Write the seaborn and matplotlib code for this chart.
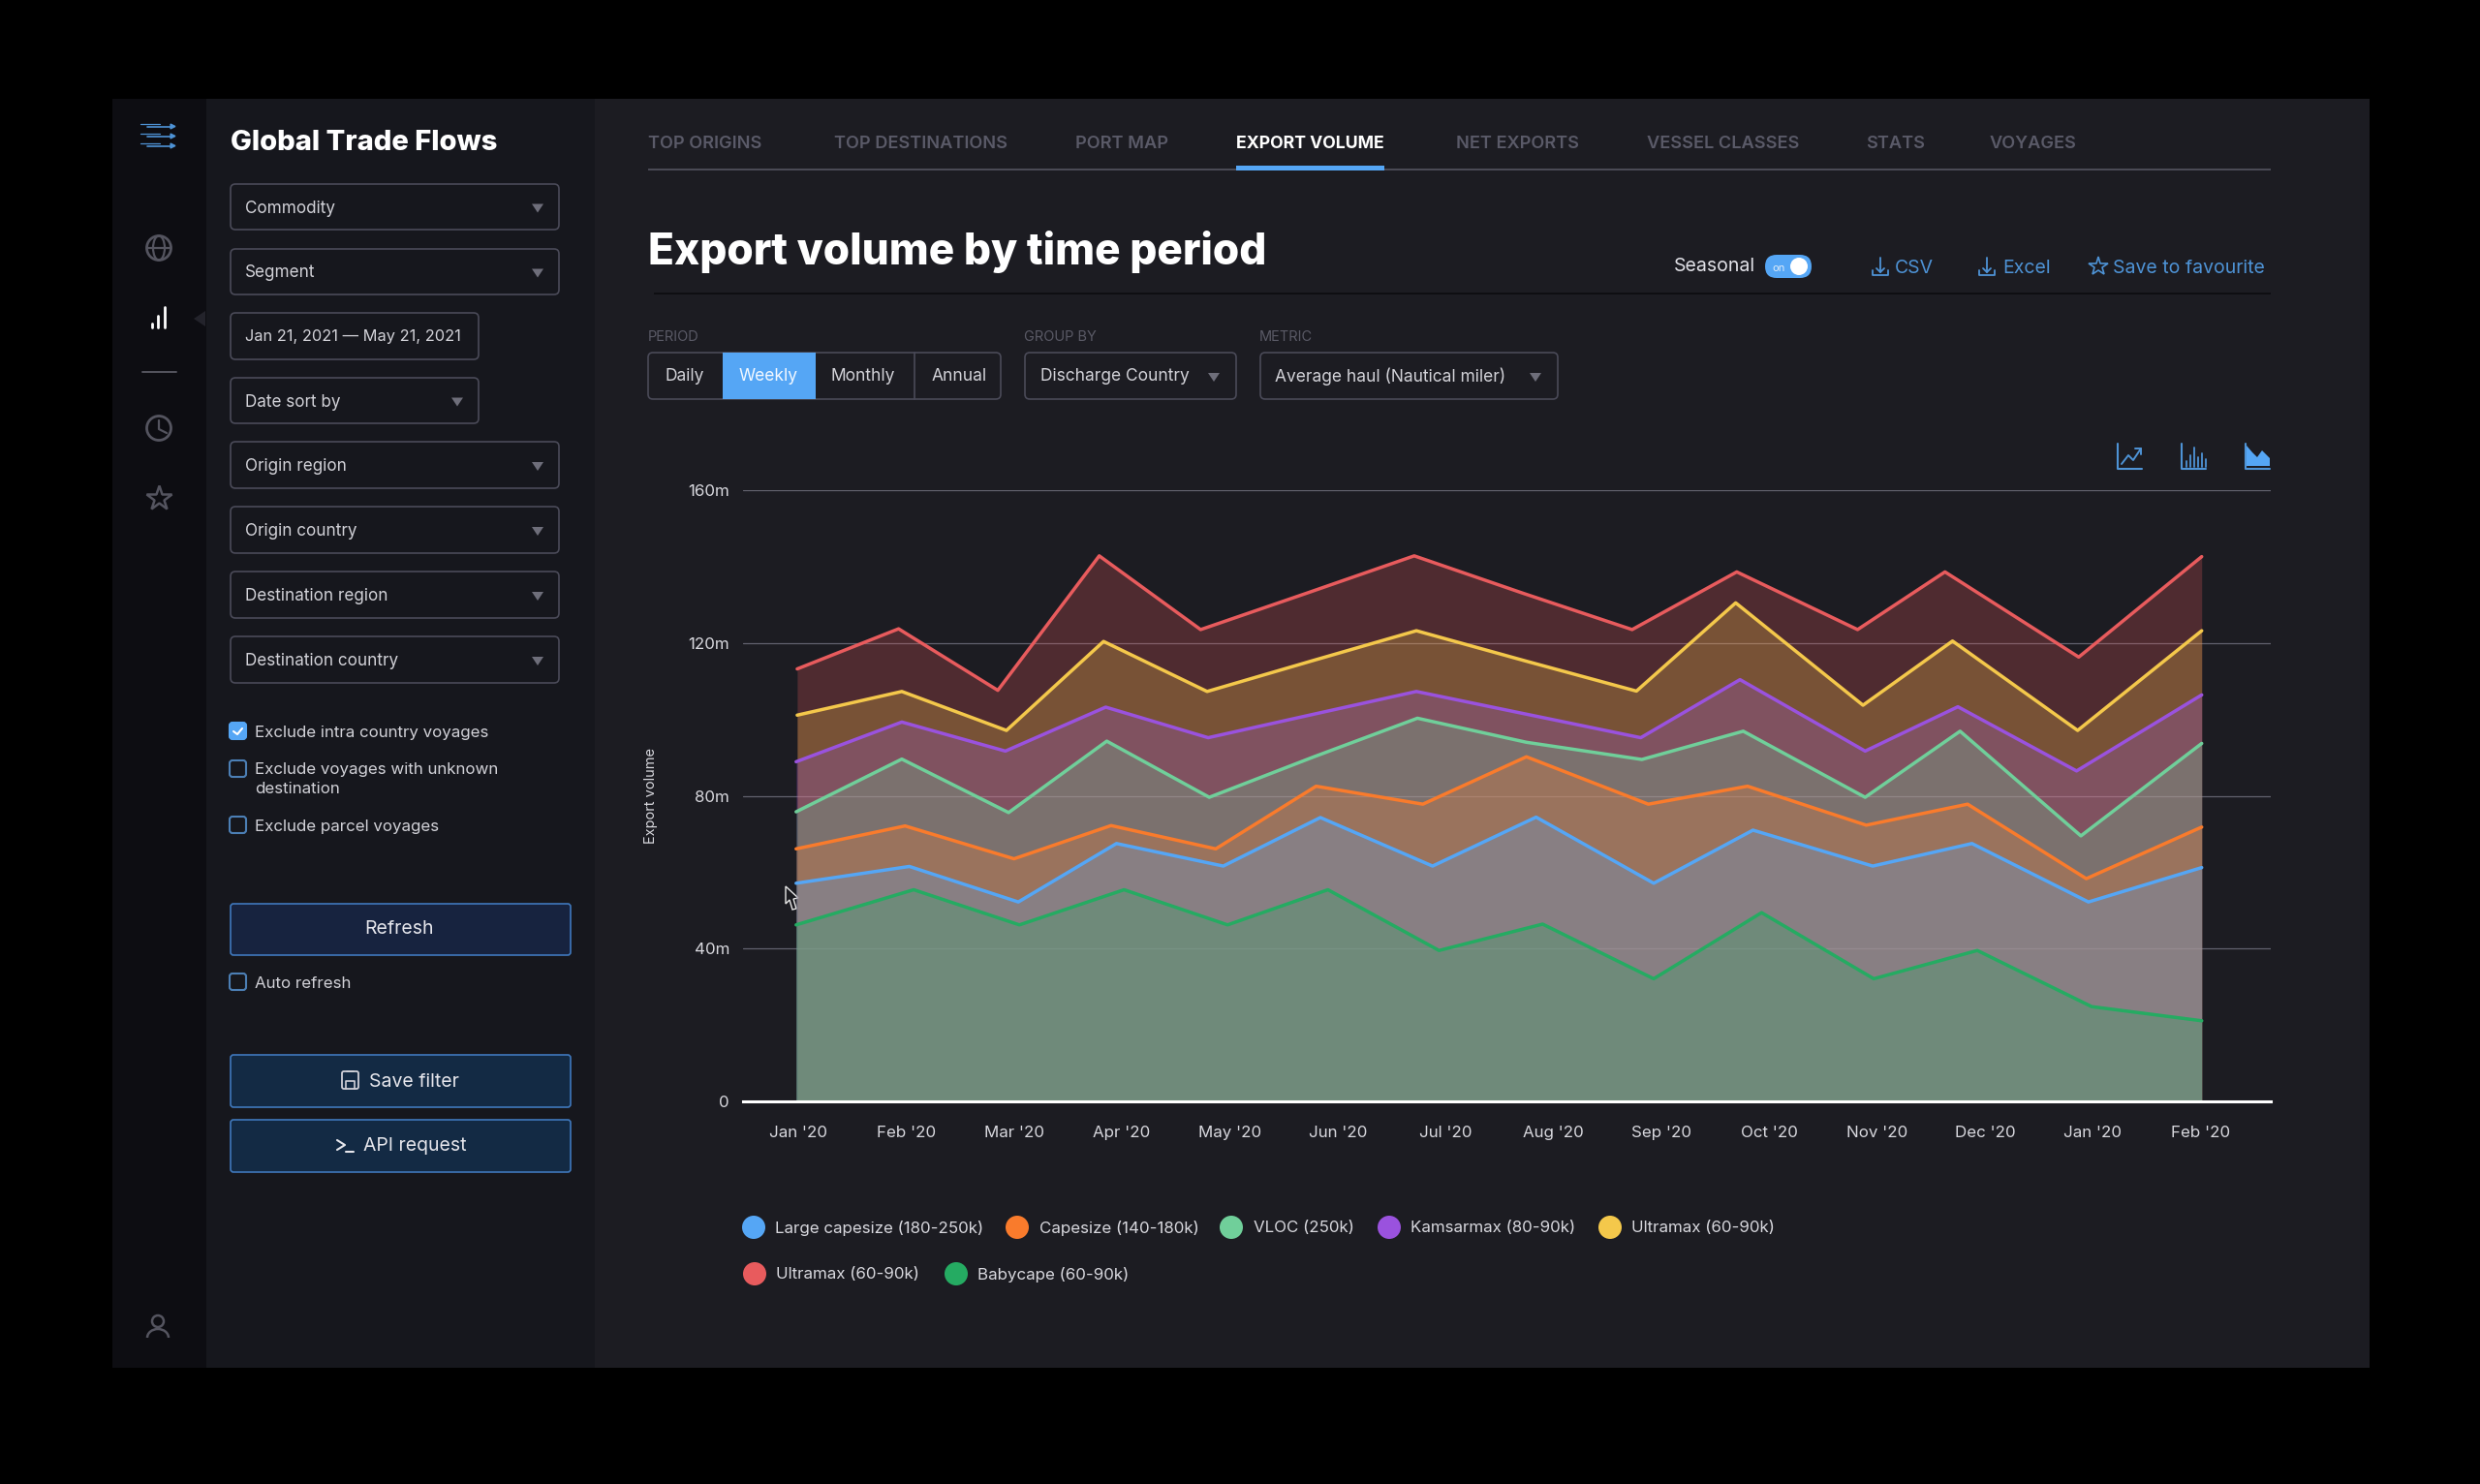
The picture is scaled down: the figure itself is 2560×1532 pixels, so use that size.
import numpy as np
import pandas as pd
import seaborn as sns
import matplotlib.pyplot as plt
from matplotlib.patches import Circle, Ellipse, FancyBboxPatch, Polygon, Rectangle, Arc

months = ["Jan '20", "Feb '20", "Mar '20", "Apr '20", "May '20", "Jun '20", "Jul '20",
          "Aug '20", "Sep '20", "Oct '20", "Nov '20", "Dec '20", "Jan '20", "Feb '20"]
y_ticks = [0, 40, 80, 120, 160]
y_tick_labels = ["0", "40m", "80m", "120m", "160m"]

# the series do not share their vertices in the picture, so each keeps its own month positions
red_x = [-0.01, 0.93, 1.85, 2.79, 3.73, 4.72, 5.71, 6.72, 7.73, 8.70, 9.82, 10.63, 11.87, 13.01]
red_y = [113.2, 123.7, 107.6, 142.8, 123.5, 133.1, 142.8, 133.0, 123.5, 138.6, 123.5, 138.6, 116.3, 142.6]
yellow_x = [-0.01, 0.96, 1.93, 2.83, 3.79, 4.76, 5.73, 6.74, 7.77, 8.69, 9.87, 10.70, 11.86, 13.01]
yellow_y = [101.1, 107.3, 97.1, 120.4, 107.3, 115.3, 123.2, 115.3, 107.4, 130.5, 103.7, 120.5, 97.1, 123.2]
purple_x = [-0.02, 0.96, 1.92, 2.85, 3.80, 4.77, 5.73, 6.76, 7.81, 8.73, 9.89, 10.75, 11.85, 13.01]
purple_y = [88.9, 99.3, 91.7, 103.2, 95.2, 101.3, 107.3, 101.3, 95.2, 110.4, 91.7, 103.3, 86.5, 106.4]
vloc_x = [-0.02, 0.96, 1.95, 2.86, 3.81, 4.78, 5.74, 6.75, 7.82, 8.76, 9.89, 10.77, 11.89, 13.01]
vloc_y = [75.8, 89.6, 75.6, 94.3, 79.6, 90.2, 100.3, 94.0, 89.5, 96.9, 79.6, 96.9, 69.5, 93.7]
orange_x = [-0.02, 0.99, 2.00, 2.90, 3.87, 4.80, 5.79, 6.75, 7.88, 8.80, 9.90, 10.84, 11.94, 13.01]
orange_y = [66.1, 72.1, 63.5, 72.2, 66.1, 82.5, 77.8, 90.2, 77.8, 82.5, 72.3, 77.8, 58.3, 71.8]
blue_x = [-0.02, 1.03, 2.04, 2.95, 3.94, 4.84, 5.88, 6.84, 7.93, 8.85, 9.96, 10.88, 11.96, 13.01]
blue_y = [57.1, 61.5, 52.2, 67.5, 61.6, 74.3, 61.6, 74.4, 57.1, 71.0, 61.6, 67.5, 52.2, 61.2]
green_x = [-0.02, 1.07, 2.05, 3.02, 3.98, 4.91, 5.94, 6.90, 7.93, 8.93, 9.97, 10.93, 11.99, 13.01]
green_y = [46.2, 55.4, 46.2, 55.4, 46.2, 55.4, 39.5, 46.4, 32.1, 49.4, 32.1, 39.5, 24.8, 21.1]

series_names = ["Large capesize (180-250k)", "Capesize (140-180k)", "VLOC (250k)", "Kamsarmax (80-90k)",
                "Ultramax (60-90k)", "Ultramax (60-90k) ", "Babycape (60-90k)"]
series_x = [blue_x, orange_x, vloc_x, purple_x, yellow_x, red_x, green_x]
series_y = [blue_y, orange_y, vloc_y, purple_y, yellow_y, red_y, green_y]
colors = ["#55A6F5", "#F97B2C", "#70CF9A", "#9A52DE", "#F4C84B", "#E85B5D", "#25AB62"]
paint_order = [5, 4, 3, 2, 1, 0, 6]

filters = [("Commodity", 190, 237, 577), ("Segment", 257, 304, 577), ("Date sort by", 390, 437, 494),
           ("Origin region", 456, 504, 577), ("Origin country", 523, 571, 577),
           ("Destination region", 590, 638, 577), ("Destination country", 657, 705, 577)]
tabs = [("TOP ORIGINS", 669), ("TOP DESTINATIONS", 861), ("PORT MAP", 1110), ("EXPORT VOLUME", 1276),
        ("NET EXPORTS", 1503), ("VESSEL CLASSES", 1700), ("STATS", 1926), ("VOYAGES", 2054)]

BG = "#1C1C22"
PANEL = "#16171D"
RAIL = "#0D0D12"
EDGE = "#4A4A58"
MUTED = "#54545F"
TEXT = "#D2D2D8"
LINK = "#4E93D6"

sns.set_theme(style="dark", rc={"axes.facecolor": "none", "figure.facecolor": "black"})
plt.rcParams["font.family"] = ["Inter", "DejaVu Sans"]

fig = plt.figure(figsize=(25.6, 15.32), dpi=100)

# whole figure in pixel units for the app chrome around the chart
ui = fig.add_axes([0, 0, 1, 1], zorder=0)
ui.set_xlim(0, 2560)
ui.set_ylim(1532, 0)
ui.axis("off")


def rect(x0, y0, x1, y1, fc, ec="none", lw=1.2, r=0, z=1):
    if r:
        p = FancyBboxPatch((x0 + r, y0 + r), x1 - x0 - 2 * r, y1 - y0 - 2 * r,
                           boxstyle=f"round,pad={r},rounding_size={r}", fc=fc, ec=ec, lw=lw, zorder=z)
    else:
        p = Rectangle((x0, y0), x1 - x0, y1 - y0, fc=fc, ec=ec, lw=lw, zorder=z)
    ui.add_patch(p)


def label(x, y, s, size=12, color=TEXT, ha="left", weight="normal", **kw):
    # the va=center box sits a little high against the reference text
    ui.text(x, y + 1.5, s, fontsize=size, color=color, ha=ha, va="center", weight=weight, zorder=5, **kw)


def seg(xs, ys, color=LINK, lw=1.4):
    ui.plot(xs, ys, color=color, lw=lw, solid_capstyle="round", zorder=5)


def arrow(x, y, color="#6E6E7A"):
    ui.add_patch(Polygon([(x - 6, y - 4), (x + 6, y - 4), (x, y + 5)], fc=color, ec="none", zorder=5))


# app panels
rect(116, 102, 2446, 1412, BG)
rect(116, 102, 213, 1412, RAIL)
rect(213, 102, 614, 1412, PANEL)

# left rail icons
for dy in (-10, 0, 10):
    seg([145, 165], [140 + dy - 2, 140 + dy - 2], LINK, 0.9)
    seg([152, 177], [140 + dy + 1, 140 + dy + 1], LINK, 1.2)
    ui.plot([178], [140 + dy], marker=">", ms=3.5, color=LINK, zorder=5)
ui.add_patch(Circle((164, 256), 12.5, fc="none", ec=MUTED, lw=2, zorder=5))
ui.add_patch(Ellipse((164, 256), 12, 25, fc="none", ec=MUTED, lw=1.6, zorder=5))
seg([152, 176], [256, 256], MUTED, 1.6)
for bx, top in zip((157, 163, 170), (334, 326, 317)):
    seg([bx, bx], [top, 338], "#FFFFFF", 2)
ui.add_patch(Polygon([(200, 329), (212, 321), (212, 337)], fc="#23232B", ec="none", zorder=5))
seg([147, 182], [384, 384], MUTED, 1.4)
ui.add_patch(Circle((164, 442), 12.5, fc="none", ec=MUTED, lw=2, zorder=5))
seg([164, 164, 172], [434, 443, 447], MUTED, 1.6)
ui.plot([164], [514], marker="*", ms=19, mfc="none", mec=MUTED, mew=1.8, zorder=5)
ui.add_patch(Circle((163, 1364), 6, fc="none", ec=MUTED, lw=1.8, zorder=5))
ui.add_patch(Arc((163, 1381), 22, 18, theta1=180, theta2=360, ec=MUTED, lw=1.8, zorder=5))

# filter column
label(238, 146, "Global Trade Flows", size=21, color="white", weight="heavy")
for name, y0, y1, x1 in filters:
    rect(238, y0, x1, y1, "none", EDGE, r=5)
    label(253, (y0 + y1) / 2, name, size=12.3)
    arrow(x1 - 22, (y0 + y1) / 2 + 1)
rect(238, 323, 494, 371, "none", EDGE, r=5)
label(253, 346, "Jan 21, 2021 \u2014 May 21, 2021", size=11.8)

for y0, txt, ty in [(746, "Exclude intra country voyages", 755),
                    (785, "Exclude voyages with unknown", 793),
                    (843, "Exclude parcel voyages", 852),
                    (1005, "Auto refresh", 1014)]:
    rect(237, y0, 254, y0 + 17, "#55A6F5" if y0 == 746 else "none", "#55A6F5" if y0 == 746 else "#4C7FB5", r=3, lw=1.5)
    label(263, ty, txt, size=12.2)
label(263, 813, "destination", size=12.2)
seg([241, 245, 250], [755, 758, 752], "white", 1.5)

rect(238, 933, 589, 986, "#17233F", "#3F78BC", r=3, lw=1.2)
label(412, 958, "Refresh", size=14, color="#E6E6EC", ha="center")
rect(238, 1089, 589, 1143, "#132A44", "#3F78BC", r=3, lw=1.2)
label(381, 1115, "Save filter", size=14, color="#E6E6EC")
rect(353, 1106, 370, 1124, "none", "#D0D0D8", r=2, lw=1.3)
seg([357, 357, 366, 366], [1124, 1116, 1116, 1124], "#D0D0D8", 1.2)
seg([358, 365], [1106, 1106], "#D0D0D8", 1.2)
rect(238, 1156, 589, 1210, "#132A44", "#3F78BC", r=3, lw=1.2)
seg([348, 356, 348], [1177, 1182, 1187], "#E6E6EC", 1.5)
seg([357, 365], [1189, 1189], "#E6E6EC", 1.5)
label(375, 1182, "API request", size=14, color="#E6E6EC")

# tabs and header
for name, x in tabs:
    active = name == "EXPORT VOLUME"
    label(x, 147, name, size=12.7 if active else 13.1, color="white" if active else "#5A5A68",
          weight="bold" if active else "semibold")
rect(669, 174, 2344, 176, "#4A4A55")
rect(1276, 171, 1429, 176, "#55A6F5", z=2)
label(669, 258.5, "Export volume by time period", size=31.8, color="white", weight="heavy")
rect(675, 302, 2344, 304, "#0E0E12")

label(1728, 274, "Seasonal", size=14, color="#E2E2E8")
rect(1822, 263, 1870, 287, "#55A6F5", r=12)
ui.add_patch(Circle((1857, 275), 9, fc="white", ec="none", zorder=5))
label(1836, 275, "on", size=8, color="#DCEBFA", ha="center")
for ix, tx, txt in [(1941, 1956, "CSV"), (2051, 2067, "Excel")]:
    seg([ix, ix], [266, 281], LINK, 1.3)
    seg([ix - 4, ix, ix + 4], [277, 281, 277], LINK, 1.3)
    seg([ix - 8, ix - 8, ix + 8, ix + 8], [279, 284, 284, 279], LINK, 1.3)
    label(tx, 275, txt, size=14, color=LINK)
ui.plot([2166], [275], marker="*", ms=15, mfc="none", mec=LINK, mew=1.2, zorder=5)
label(2181, 275, "Save to favourite", size=14, color=LINK)

# period, group by, metric controls
label(669, 346, "PERIOD", size=10.5, color="#5A5A66")
label(1057, 346, "GROUP BY", size=10.5, color="#5A5A66")
label(1300, 346, "METRIC", size=10.5, color="#5A5A66")
rect(669, 364, 1033, 412, "none", EDGE, r=5)
rect(746, 364, 842, 412, "#55A6F5", z=2)
seg([944, 944], [364, 412], EDGE, 1.2)
for cx, txt in [(707, "Daily"), (793, "Weekly"), (891, "Monthly"), (990, "Annual")]:
    label(cx, 387, txt, size=12.5, color="#F2F8FF" if txt == "Weekly" else TEXT, ha="center")
rect(1058, 364, 1276, 412, "none", EDGE, r=5)
label(1074, 387, "Discharge Country", size=12.5)
arrow(1253, 389)
rect(1301, 364, 1608, 412, "none", EDGE, r=5)
label(1316, 387, "Average haul (Nautical miler)", size=12.5)
arrow(1585, 389)

# chart type icons
for x0 in (2186, 2252, 2318):
    seg([x0, x0, x0 + 25], [458, 484, 484], LINK, 1.5)
seg([2190, 2197, 2202, 2210], [479, 470, 475, 463], LINK, 1.4)
seg([2204, 2210, 2210], [463, 463, 469], LINK, 1.4)
for bx, top in zip(range(2257, 2278, 4), (476, 470, 462, 472, 468, 474)):
    seg([bx, bx], [top, 482], LINK, 1.3)
ui.add_patch(Polygon([(2319, 481), (2319, 460), (2325, 467), (2330, 472), (2335, 465), (2343, 473), (2343, 481)],
                     fc="#55A6F5", ec="none", zorder=5))

# mouse pointer
ui.add_patch(Polygon([(811, 915), (811, 933), (815, 929), (818, 939), (822, 938), (819, 928), (824, 927)],
                     fc="#1B1B20", ec="#E8E8E8", lw=1, zorder=8))

# legend, placed as in the picture
for (cx, tx, cy), name, col in zip([(778, 800, 1267), (1050, 1073, 1267), (1271, 1294, 1267), (1434, 1456, 1267),
                                    (1662, 1684, 1267), (779, 801, 1315), (987, 1009, 1315)],
                                   series_names, colors):
    ui.add_patch(Circle((cx, cy), 12, fc=col, ec="none", zorder=5))
    label(tx, cy - 1, name.strip(), size=12.2, color="#D8D8DE")

# chart
df = pd.concat([pd.DataFrame({"month": x, "volume": y, "vessel": n})
                for x, y, n in zip(series_x, series_y, series_names)])
ax = fig.add_axes([767 / 2560, 1 - 1137 / 1532, (2344 - 767) / 2560, (1137 - 506) / 1532], zorder=1)
for i in paint_order:
    ax.fill_between(series_x[i], 0, series_y[i], color=colors[i], alpha=0.25, lw=0, zorder=2)
sns.lineplot(data=df, x="month", y="volume", hue="vessel", palette=dict(zip(series_names, colors)),
             estimator=None, sort=False, legend=False, lw=2.5, ax=ax, zorder=3)

ax.set_xlim(-0.512, 13.65)
ax.set_ylim(0, 160)
ax.set_xticks(range(len(months)))
ax.set_xticklabels(months, fontsize=12.2, color="#D8D8DE")
ax.set_yticks(y_ticks)
ax.set_yticklabels(y_tick_labels, fontsize=12.2, color="#D8D8DE")
ax.tick_params(axis="x", length=0, pad=18)
ax.tick_params(axis="y", length=0, pad=10)
ax.set_xlabel("")
ax.set_ylabel("Export volume", fontsize=10.5, color="#D8D8DE")
ax.yaxis.set_label_coords(-0.056, 0.5)
ax.grid(axis="y", color="#62626E", lw=0.9)
ax.grid(axis="x", visible=False)
ax.set_axisbelow(True)
sns.despine(ax=ax, left=True, top=True, right=True)
ax.spines["bottom"].set_color("white")
ax.spines["bottom"].set_linewidth(2.2)

fig.savefig("out.png", dpi=100, facecolor="black")
